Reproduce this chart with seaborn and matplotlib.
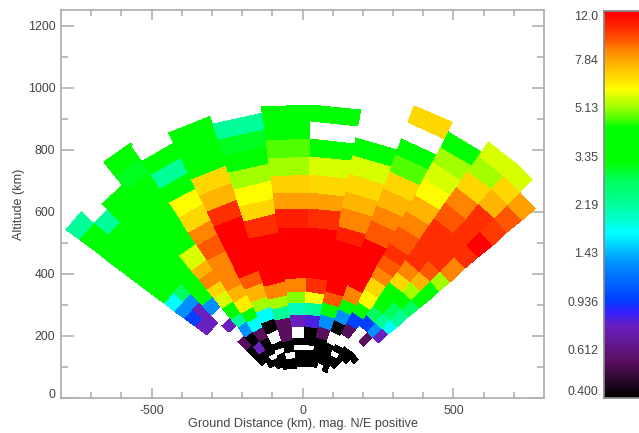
import numpy as np
import matplotlib
matplotlib.use("Agg")
import matplotlib.pyplot as plt
from matplotlib.colors import LinearSegmentedColormap, LogNorm
import seaborn as sns

n = np.nan
# gate edges along a beam (km from the fan apex) and beam edges (deg from vertical)
gate_edges = np.array([41,47,52,58,63,70,81,93,105,116,130,143,155,168,181,200,216,234,252,270,287,304,322]) / 0.306
beam_edges = [(-53,-48.3),(-48.3,-44.5),(-44.5,-39),(-39,-33),(-33,-26),(-26,-17.5),(-17.5,-7.8),(-7.8,1.6),
              (1.6,11.3),(11.3,20.3),(20.3,28),(28,35),(35,41),(41,45.5),(45.5,49.5)]
beam_stretch = [1.035,1.035,1.0,0.98,0.97,1.01,0.98,1.0,1.0,1.02,1.0,1.03,1.07,1.07,1.07]

beam_m7 = [n,n,n,n,n,n,n,n,n,.75,.95,1.3,1.7,3.6,3.6,3.6,3.6,3.6,3.6,2.2,n,n]
beam_m6 = [n,n,n,n,n,n,n,n,n,.75,.75,1.3,2.7,3.6,3.6,3.6,3.6,3.6,2.2,n,n,n]
beam_m5 = [n,n,n,.4,.4,.4,.55,n,.75,n,1.3,3.6,3.6,3.6,3.6,3.6,3.6,3.6,3.6,3.6,n,n]
beam_m4 = [n,n,.4,.4,.4,.75,.4,1.3,2.2,3.6,5.7,6.8,8.5,7.5,5.7,3.6,3.6,3.6,3.6,3.6,3.0,3.6]
beam_m3 = [n,.4,.4,n,.4,.4,.55,1.7,3.6,6.4,7.5,8.5,8.5,8.5,9.3,8.5,6.8,6.1,3.6,2.2,3.6,n]
beam_m2 = [.4,.4,.4,n,.4,n,.4,1.7,5.2,7.5,9.3,11.8,11.8,11.8,11.8,10.3,7.5,6.8,3.6,3.6,3.6,n]
beam_m1 = [.4,.4,n,.4,.4,.55,.55,2.2,5.2,8.5,11.8,11.8,11.8,11.8,10.3,6.8,6.1,5.2,3.6,3.0,2.2,n]
beam_0  = [.4,.4,.4,n,.4,n,.75,2.0,5.0,8.5,11.8,11.8,11.8,11.8,10.8,8.0,7.0,5.2,4.7,3.6,3.6,n]
beam_p1 = [.4,.4,.4,n,.4,.4,.8,2.2,6.1,10.3,11.8,11.8,11.8,11.8,10.3,8.0,6.8,5.7,3.6,n,3.6,n]
beam_p2 = [.4,.4,.4,.4,.4,.55,1.3,3.6,9.3,11.8,11.8,11.8,11.8,10.8,8.5,7.5,6.8,5.7,3.6,n,n,n]
beam_p3 = [n,.4,.4,.4,.4,n,.4,1.3,3.6,8.5,11.8,11.8,11.8,11.8,9.3,8.5,7.5,6.8,4.7,3.6,n,6.8]
beam_p4 = [.4,.4,.4,n,.4,n,.55,.95,3.6,6.1,6.8,8.5,9.3,10.3,9.3,8.5,7.5,6.1,5.7,5.2,3.6,n]
beam_p5 = [n,.4,.4,.4,.4,n,n,.95,2.7,3.6,3.6,6.8,8.5,10.3,10.3,10.3,9.3,8.5,6.8,5.2,5.7,n]
beam_p6 = [n,n,n,.4,.4,n,.55,1.3,2.2,2.7,3.6,5.2,7.5,9.3,10.3,10.3,10.3,10.3,7.5,6.8,5.7,n]
beam_p7 = [n,n,n,n,.4,n,n,.75,1.7,2.2,2.7,3.6,3.6,5.2,8.5,10.3,11.8,10.0,9.3,8.0,n,n]
beams = [beam_m7,beam_m6,beam_m5,beam_m4,beam_m3,beam_m2,beam_m1,beam_0,
         beam_p1,beam_p2,beam_p3,beam_p4,beam_p5,beam_p6,beam_p7]

bar_labels = ["12.0","7.84","5.13","3.35","2.19","1.43","0.936","0.612","0.400"]
xlabel = "Ground Distance (km), mag. N/E positive"
ylabel = "Altitude (km)"

sns.set_theme(style="ticks")
plt.rcParams["font.family"] = ["Liberation Sans", "DejaVu Sans"]
plt.rcParams["axes.unicode_minus"] = False

stops = [(0,"#000000"),(.0936,"#5a1060"),(.185,"#6a20c0"),(.22,"#3020ff"),(.254,"#0040ff"),(.347,"#0090ff"),
         (.425,"#00ffff"),(.501,"#00ff98"),(.561,"#00ff60"),(.61,"#00ff00"),(.70,"#00ff00"),(.724,"#50ff00"),
         (.754,"#a0ff00"),(.781,"#d8ff00"),(.80,"#ffff00"),(.833,"#ffd800"),(.861,"#ffb800"),(.898,"#ff8800"),
         (.925,"#ff5800"),(.955,"#ff3000"),(.996,"#ff0000"),(1,"#ff0000")]
cmap = LinearSegmentedColormap.from_list("rb", stops, N=512)
cmap.set_bad("white")
norm = LogNorm(0.4, 12)

W, H = 639, 433
fig = plt.figure(figsize=(W/100, H/100), dpi=100)
L, R, T, B = 61, 544, 10, 398
ax = fig.add_axes([L/W, 1-B/H, (R-L)/W, (B-T)/H])

for (lo, hi), stretch, vals in zip(beam_edges, beam_stretch, beams):
    th = np.radians([lo, hi])
    r = gate_edges * stretch
    X = np.outer(r, np.sin(th)) * 1.013
    Y = np.outer(r, np.cos(th)) * 0.985 - 30
    ax.pcolormesh(X, Y, np.ma.masked_invalid(np.array(vals)[:, None]), cmap=cmap, norm=norm, shading="flat")

grey = "#b0b0b0"
txt = "#444444"
ax.set_xlim(-800, 800)
ax.set_ylim(0, 1250)
ax.set_xticks([-500, 0, 500])
ax.set_xticks(np.arange(-700, 800, 100), minor=True)
ax.set_yticks(np.arange(0, 1201, 200))
ax.set_yticks(np.arange(100, 1250, 200), minor=True)
ax.tick_params(axis="x", which="major", direction="in", length=7, width=1.2, color=grey, top=True,
               labelsize=8.9, labelcolor=txt, pad=5)
ax.tick_params(axis="x", which="minor", direction="in", length=4, width=1.2, color=grey, top=True)
ax.tick_params(axis="y", which="major", direction="in", length=9, width=1.2, color=grey, right=True,
               labelsize=8.9, labelcolor=txt, pad=4)
ax.tick_params(axis="y", which="minor", direction="in", length=5, width=1.2, color=grey, right=True)
for s in ax.spines.values():
    s.set_color(grey)
    s.set_linewidth(1.3)
ax.set_xlabel(xlabel, fontsize=9.05, color=txt, labelpad=1)
ax.set_ylabel(ylabel, fontsize=9.05, color=txt, labelpad=2)
for t in ax.get_yticklabels():
    if t.get_text() == "0":
        t.set_va("baseline")

cax = fig.add_axes([604/W, 1-398/H, 40/W, 387/H])
levels = np.geomspace(12, 0.4, 256)[:, None]
sns.heatmap(levels, ax=cax, cmap=cmap, norm=norm, cbar=False, xticklabels=False,
            yticklabels=False)
cax.set_yticks(np.linspace(0, 256, 9))
cax.set_yticklabels(bar_labels, rotation=0)
cax.tick_params(length=0, labelsize=8.9, labelcolor=txt, pad=4, left=True)
labs = cax.get_yticklabels()
labs[0].set_va("top")
labs[-1].set_va("bottom")
for s in ["left", "top", "bottom"]:
    cax.spines[s].set_visible(True)
    cax.spines[s].set_color("#888888")

fig.savefig("out.png", dpi=100)
